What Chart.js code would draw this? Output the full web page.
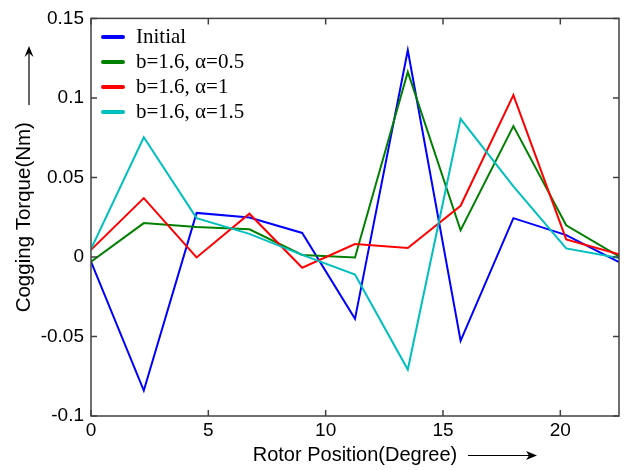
<!DOCTYPE html>
<html>
<head>
<meta charset="utf-8">
<script src="https://cdn.jsdelivr.net/npm/chart.js@4.4.0/dist/chart.umd.min.js"></script>
<style>
  body { margin: 0; background: #fff; }
  canvas { display: block; }
</style>
</head>
<body>
<canvas id="torqueChart" width="631" height="470"></canvas>
<script>
// rotor positions (degree)
const positions = [0, 2.25, 4.5, 6.75, 9, 11.25, 13.5, 15.75, 18, 20.25, 22.5];

// cogging torque (Nm) for each design
const initialTorque = [-0.003, -0.084, 0.0277, 0.0248, 0.0151, -0.0389, 0.130, -0.0527, 0.0244, 0.0137, -0.0032];
const alpha05Torque = [-0.003, 0.0213, 0.0188, 0.0174, 0.0013, -0.0003, 0.1163, 0.0168, 0.0823, 0.0199, 0.0003];
const alpha1Torque = [0.0045, 0.037, -0.0003, 0.0272, -0.0068, 0.0081, 0.0056, 0.0322, 0.1018, 0.011, 0.0017];
const alpha15Torque = [0.005, 0.0753, 0.0244, 0.0145, 0.0013, -0.011, -0.0708, 0.0868, 0.0444, 0.0054, -0.0007];

const seriesNames = ["Initial", "b=1.6, \u03b1=0.5", "b=1.6, \u03b1=1", "b=1.6, \u03b1=1.5"];
const seriesColors = ["#0000ff", "#008000", "#ff0000", "#00bfbf"];

const xTicks = [0, 5, 10, 15, 20];
const yTicks = [-0.1, -0.05, 0, 0.05, 0.1, 0.15];

function toPoints(vals) {
  return vals.map((v, i) => ({ x: positions[i], y: v }));
}

const allSeries = [initialTorque, alpha05Torque, alpha1Torque, alpha15Torque];

/* --------- frame, inward ticks, arrows, legend --------- */
const framePlugin = {
  id: "frame",
  afterDatasetsDraw(chart) {
    const { ctx, chartArea: a, scales } = chart;
    ctx.save();
    ctx.strokeStyle = "#404040";
    ctx.lineWidth = 1.5;
    ctx.strokeRect(a.left, a.top, a.right - a.left, a.bottom - a.top);

    const tl = 6;
    ctx.beginPath();
    xTicks.forEach(v => {
      const px = scales.x.getPixelForValue(v);
      ctx.moveTo(px, a.bottom); ctx.lineTo(px, a.bottom - tl);
      ctx.moveTo(px, a.top); ctx.lineTo(px, a.top + tl);
    });
    yTicks.forEach(v => {
      const py = scales.y.getPixelForValue(v);
      ctx.moveTo(a.left, py); ctx.lineTo(a.left + tl, py);
      ctx.moveTo(a.right, py); ctx.lineTo(a.right - tl, py);
    });
    ctx.stroke();
    ctx.restore();
  },
  afterDraw(chart) {
    const { ctx } = chart;
    ctx.save();
    // arrows next to the axis titles
    ctx.strokeStyle = "#000";
    ctx.fillStyle = "#000";
    ctx.lineWidth = 1.2;
    ctx.beginPath();
    ctx.moveTo(29, 105); ctx.lineTo(29, 50);
    ctx.moveTo(468, 455.5); ctx.lineTo(532, 455.5);
    ctx.stroke();
    ctx.beginPath();
    ctx.moveTo(29, 46); ctx.lineTo(24.5, 57); ctx.lineTo(29, 53); ctx.lineTo(33.5, 57);
    ctx.closePath(); ctx.fill();
    ctx.beginPath();
    ctx.moveTo(537, 455.5); ctx.lineTo(526, 451); ctx.lineTo(529, 455.5); ctx.lineTo(526, 460);
    ctx.closePath(); ctx.fill();

    // legend
    ctx.font = "21px 'Liberation Serif', 'Times New Roman', serif";
    ctx.textBaseline = "middle";
    ctx.lineCap = "round";
    chart.data.datasets.forEach((ds, i) => {
      const y = 37 + i * 25;
      ctx.strokeStyle = ds.borderColor;
      ctx.lineWidth = 4;
      ctx.beginPath();
      ctx.moveTo(103, y); ctx.lineTo(123, y);
      ctx.stroke();
      ctx.fillStyle = "#000";
      ctx.fillText(ds.label, 136, y);
    });
    ctx.restore();
  }
};

new Chart(document.getElementById("torqueChart"), {
  type: "line",
  data: {
    datasets: allSeries.map((vals, i) => ({
      label: seriesNames[i],
      data: toPoints(vals),
      borderColor: seriesColors[i],
      borderWidth: 2,
      pointRadius: 0,
      tension: 0,
      order: allSeries.length - i
    }))
  },
  options: {
    responsive: false,
    animation: false,
    layout: { padding: { left: 0, right: 12, top: 11, bottom: 0 } },
    plugins: { legend: { display: false }, tooltip: { enabled: false } },
    scales: {
      x: {
        type: "linear",
        min: 0,
        max: 22.5,
        afterBuildTicks: s => { s.ticks = xTicks.map(v => ({ value: v })); },
        afterFit: s => { s.height = 54; },
        grid: { display: false, drawTicks: false, tickLength: 0 },
        border: { display: false },
        ticks: {
          padding: 3,
          color: "#000",
          font: { family: "'Liberation Sans', Arial, sans-serif", size: 19 },
          maxRotation: 0
        },
        title: {
          display: true,
          text: "Rotor Position(Degree)",
          color: "#000",
          font: { family: "'Liberation Sans', Arial, sans-serif", size: 20 },
          padding: { top: 0, bottom: 3 }
        }
      },
      y: {
        min: -0.1,
        max: 0.15,
        afterBuildTicks: s => { s.ticks = yTicks.map(v => ({ value: v })); },
        afterFit: s => { s.width = 91; },
        grid: { display: false, drawTicks: false, tickLength: 0 },
        border: { display: false },
        ticks: {
          padding: 7,
          color: "#000",
          font: { family: "'Liberation Sans', Arial, sans-serif", size: 19 },
          callback: v => String(Number(v.toFixed(2)))
        },
        title: {
          display: true,
          text: "Cogging Torque(Nm)",
          color: "#000",
          font: { family: "'Liberation Sans', Arial, sans-serif", size: 20.5 },
          padding: { top: 12, bottom: 0 }
        }
      }
    }
  },
  plugins: [framePlugin]
});
</script>
</body>
</html>
